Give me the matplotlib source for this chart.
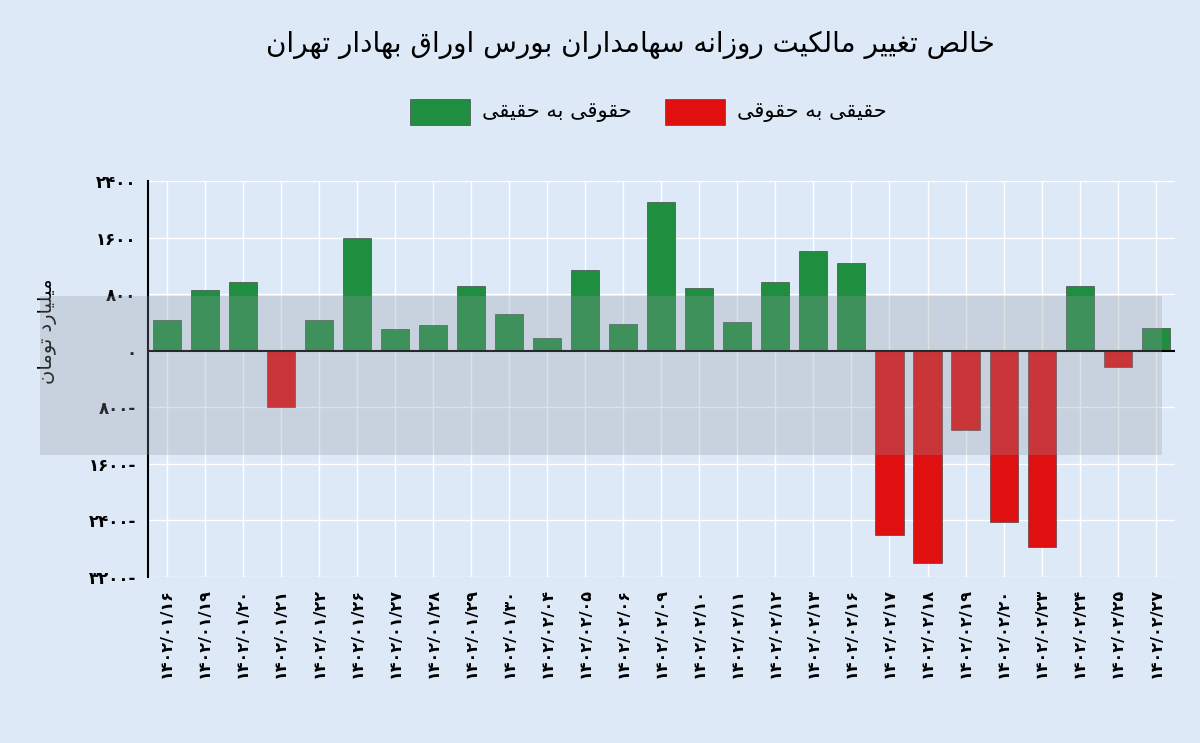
import matplotlib
matplotlib.use("Agg")
import matplotlib.pyplot as plt
from matplotlib.patches import Rectangle

# Persian letter forms: isolated, final, initial, medial (None = right-joining only)
FORMS = {
    'ا': (0xFE8D, 0xFE8E, None, None),
    'ب': (0xFE8F, 0xFE90, 0xFE91, 0xFE92),
    'ت': (0xFE95, 0xFE96, 0xFE97, 0xFE98),
    'ح': (0xFEA1, 0xFEA2, 0xFEA3, 0xFEA4),
    'خ': (0xFEA5, 0xFEA6, 0xFEA7, 0xFEA8),
    'د': (0xFEA9, 0xFEAA, None, None),
    'ر': (0xFEAD, 0xFEAE, None, None),
    'ز': (0xFEAF, 0xFEB0, None, None),
    'س': (0xFEB1, 0xFEB2, 0xFEB3, 0xFEB4),
    'ص': (0xFEB9, 0xFEBA, 0xFEBB, 0xFEBC),
    'غ': (0xFECD, 0xFECE, 0xFECF, 0xFED0),
    'ف': (0xFED1, 0xFED2, 0xFED3, 0xFED4),
    'ق': (0xFED5, 0xFED6, 0xFED7, 0xFED8),
    'ل': (0xFEDD, 0xFEDE, 0xFEDF, 0xFEE0),
    'م': (0xFEE1, 0xFEE2, 0xFEE3, 0xFEE4),
    'ن': (0xFEE5, 0xFEE6, 0xFEE7, 0xFEE8),
    'ه': (0xFEE9, 0xFEEA, 0xFEEB, 0xFEEC),
    'و': (0xFEED, 0xFEEE, None, None),
    'ی': (0xFBFC, 0xFBFD, 0xFBFE, 0xFBFF),
    'ک': (0xFB8E, 0xFB8F, 0xFB90, 0xFB91),
}


def fa(text):
    out = []
    for i, ch in enumerate(text):
        if ch not in FORMS:
            out.append(ch)
            continue
        f = FORMS[ch]
        prev = text[i - 1] if i > 0 else ''
        nxt = text[i + 1] if i + 1 < len(text) else ''
        joins_prev = prev in FORMS and FORMS[prev][2] is not None
        joins_next = nxt in FORMS and f[2] is not None
        if joins_prev and joins_next:
            code = f[3]
        elif joins_prev:
            code = f[1]
        elif joins_next:
            code = f[2]
        else:
            code = f[0]
        out.append(chr(code))
    return ''.join(out)[::-1]


def fa_digits(s):
    return s.translate(str.maketrans('0123456789', '۰۱۲۳۴۵۶۷۸۹'))


dates = ['1402/01/16', '1402/01/19', '1402/01/20', '1402/01/21', '1402/01/22',
         '1402/01/26', '1402/01/27', '1402/01/28', '1402/01/29', '1402/01/30',
         '1402/02/04', '1402/02/05', '1402/02/06', '1402/02/09', '1402/02/10',
         '1402/02/11', '1402/02/12', '1402/02/13', '1402/02/16', '1402/02/17',
         '1402/02/18', '1402/02/19', '1402/02/20', '1402/02/23', '1402/02/24',
         '1402/02/25', '1402/02/27']
values = [440, 860, 975, -790, 440, 1595, 310, 367, 917, 522,
          183, 1143, 381, 2102, 889, 409, 975, 1411, 1242, -2610,
          -3005, -1115, -2427, -2780, 917, -226, 325]
yticks = [2400, 1600, 800, 0, -800, -1600, -2400, -3200]

green = '#1f8f3f'
red = '#e01010'
bg = '#dde9f6'

plt.rcParams['font.family'] = ['DejaVu Sans']
fig = plt.figure(figsize=(12, 7.43), dpi=100, facecolor=bg)
ax = fig.add_axes([0.123, 0.2234, 0.856, 0.533], facecolor=bg)

# watermark band
fig.patches.append(Rectangle((0.033, 0.387), 0.935, 0.215, transform=fig.transFigure,
                             facecolor='#8f98a2', alpha=0.28, zorder=0))

x = list(range(len(values)))
colors = [green if v >= 0 else red for v in values]
ax.bar(x, values, width=0.74, color=colors, edgecolor='#333333', linewidth=0.4, zorder=3)
ax.axhline(0, color='black', linewidth=1.5, zorder=4)

ax.set_xlim(-0.5, len(values) - 0.5)
ax.set_ylim(-3200, 2400)
ax.set_yticks(yticks)
ax.set_yticklabels([fa_digits(str(abs(t))) + ('-' if t < 0 else '') for t in yticks],
                   fontsize=12, fontweight='bold')
ax.set_xticks(x)
ax.set_xticklabels([fa_digits(d) for d in dates], rotation=90, fontsize=11.5, fontweight='bold')
ax.tick_params(length=0, pad=8)
ax.grid(True, color='white', linewidth=1, zorder=1)
for s in ['top', 'right', 'bottom']:
    ax.spines[s].set_visible(False)
ax.spines['left'].set_linewidth(1.5)

ax.set_ylabel(fa('میلیارد تومان'), fontsize=14)
ax.yaxis.set_label_coords(-0.088, 0.62)

fig.text(0.525, 0.94, fa('خالص تغییر مالکیت روزانه سهامداران بورس اوراق بهادار تهران'),
         ha='center', va='center', fontsize=20)

fig.patches.append(Rectangle((0.342, 0.832), 0.05, 0.035, transform=fig.transFigure,
                             facecolor=green, edgecolor='#333333', linewidth=0.4))
fig.text(0.402, 0.849, fa('حقوقی به حقیقی'), ha='left', va='center', fontsize=15)
fig.patches.append(Rectangle((0.554, 0.832), 0.05, 0.035, transform=fig.transFigure,
                             facecolor=red, edgecolor='#333333', linewidth=0.4))
fig.text(0.614, 0.849, fa('حقیقی به حقوقی'), ha='left', va='center', fontsize=15)

fig.savefig('out.png', dpi=100, facecolor=bg)
